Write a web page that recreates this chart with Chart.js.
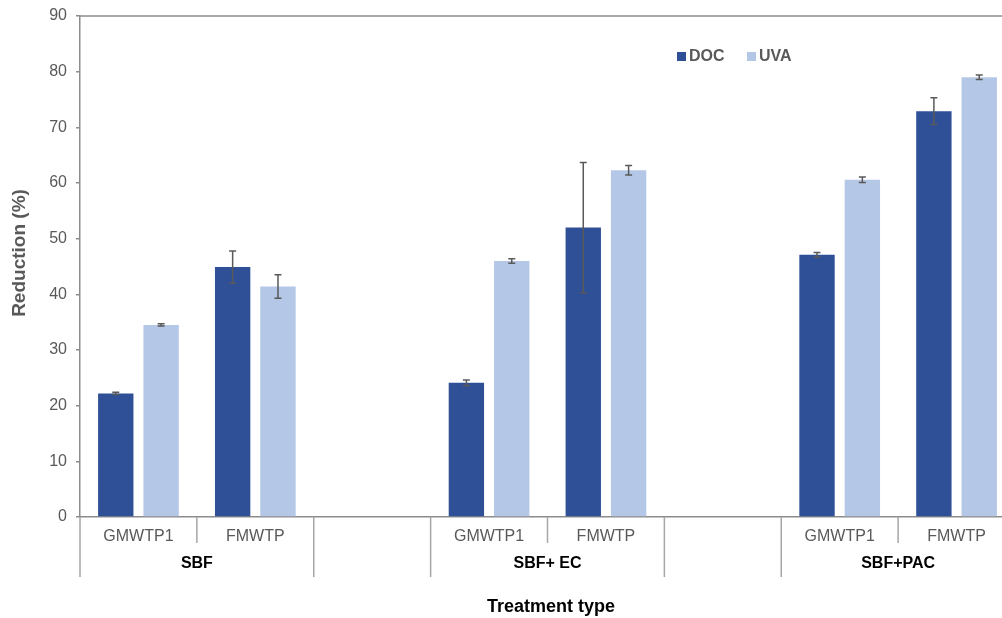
<!DOCTYPE html>
<html>
<head>
<meta charset="UTF-8">
<script src="https://cdn.jsdelivr.net/npm/chart.js"></script>
<style>
  html, body { margin: 0; padding: 0; background: white; overflow: hidden; }
  #wrap { width: 1016px; height: 618px; }
</style>
</head>
<body>
<div id="wrap"><canvas id="chart" width="1016" height="618"></canvas></div>
<script>
// categories (blank slots separate the treatment groups)
const categories = ['GMWTP1', 'FMWTP', '', 'GMWTP1', 'FMWTP', '', 'GMWTP1', 'FMWTP'];
const groupLabels = ['SBF', '', 'SBF+ EC', '', 'SBF+PAC'];
const groupSizes = [2, 1, 2, 1, 2];

const docValues = [22.2, 44.9, null, 24.1, 52.0, null, 47.1, 72.9];
const docErrors = [0.2, 2.9, null, 0.5, 11.7, null, 0.4, 2.4];
const uvaValues = [34.5, 41.4, null, 46.0, 62.3, null, 60.6, 79.0];
const uvaErrors = [0.2, 2.1, null, 0.4, 0.85, null, 0.5, 0.4];

const yTicks = [0, 10, 20, 30, 40, 50, 60, 70, 80, 90];

const DOC_COLOR = '#2F5097';
const UVA_COLOR = '#B4C7E7';
const AXIS_COLOR = '#8C8C8C';
const SEP_COLOR = '#A6A6A6';
const TEXT_GREY = '#595959';
const FONT = '"Liberation Sans", Arial, sans-serif';

// error bars drawn on top of each bar
const errorBars = {
  id: 'errorBars',
  afterDatasetsDraw(chart) {
    const ctx = chart.ctx;
    const y = chart.scales.y;
    ctx.save();
    ctx.strokeStyle = '#595959';
    ctx.lineWidth = 1.5;
    chart.data.datasets.forEach((ds, di) => {
      const meta = chart.getDatasetMeta(di);
      meta.data.forEach((bar, i) => {
        const v = ds.data[i];
        const e = ds.errors[i];
        if (v == null || e == null) return;
        const top = y.getPixelForValue(v + e);
        const bot = y.getPixelForValue(v - e);
        const x = bar.x;
        ctx.beginPath();
        ctx.moveTo(x, top); ctx.lineTo(x, bot);
        ctx.moveTo(x - 3.5, top); ctx.lineTo(x + 3.5, top);
        ctx.moveTo(x - 3.5, bot); ctx.lineTo(x + 3.5, bot);
        ctx.stroke();
      });
    });
    ctx.restore();
  }
};

// multi-level x labels, separators, frame, legend and titles
const decorations = {
  id: 'decorations',
  afterDraw(chart) {
    const ctx = chart.ctx;
    const area = chart.chartArea;
    const x = chart.scales.x;
    const step = x.getPixelForValue(1) - x.getPixelForValue(0);
    const base = area.bottom;
    ctx.save();

    // top frame line
    ctx.strokeStyle = AXIS_COLOR;
    ctx.lineWidth = 1.5;
    ctx.beginPath();
    ctx.moveTo(area.left, area.top);
    ctx.lineTo(area.right, area.top);
    ctx.stroke();

    // category labels
    ctx.fillStyle = TEXT_GREY;
    ctx.font = '16px ' + FONT;
    ctx.textAlign = 'center';
    ctx.textBaseline = 'middle';
    categories.forEach((c, i) => {
      if (c) ctx.fillText(c, x.getPixelForValue(i), base + 20);
    });

    // separators
    ctx.strokeStyle = SEP_COLOR;
    ctx.lineWidth = 1.5;
    let idx = 0;
    const bounds = [];
    groupSizes.forEach((n, g) => {
      const left = x.getPixelForValue(idx) - step / 2;
      const right = x.getPixelForValue(idx + n - 1) + step / 2;
      bounds.push(left);
      for (let k = 1; k < n; k++) {
        const sx = x.getPixelForValue(idx + k) - step / 2;
        ctx.beginPath();
        ctx.moveTo(sx, base); ctx.lineTo(sx, base + 26);
        ctx.stroke();
      }
      if (groupLabels[g]) {
        ctx.fillStyle = '#000';
        ctx.font = 'bold 16px ' + FONT;
        ctx.fillText(groupLabels[g], (left + right) / 2, base + 47);
      }
      idx += n;
      if (g === groupSizes.length - 1) bounds.push(right);
    });
    bounds.forEach(bx => {
      ctx.beginPath();
      ctx.moveTo(bx, base); ctx.lineTo(bx, base + 60);
      ctx.stroke();
    });

    // axis titles
    ctx.fillStyle = '#000';
    ctx.font = 'bold 18px ' + FONT;
    ctx.fillText('Treatment type', 551, 607);

    ctx.save();
    ctx.translate(20, 253);
    ctx.rotate(-Math.PI / 2);
    ctx.fillStyle = TEXT_GREY;
    ctx.font = 'bold 19px ' + FONT;
    ctx.fillText('Reduction (%)', 0, 0);
    ctx.restore();

    // legend
    ctx.font = 'bold 16px ' + FONT;
    ctx.textAlign = 'left';
    const items = [['DOC', DOC_COLOR, 677], ['UVA', UVA_COLOR, 747]];
    items.forEach(([label, col, lx]) => {
      ctx.fillStyle = col;
      ctx.fillRect(lx, 52, 9, 9);
      ctx.fillStyle = TEXT_GREY;
      ctx.fillText(label, lx + 12, 57);
    });

    ctx.restore();
  }
};

new Chart(document.getElementById('chart'), {
  type: 'bar',
  data: {
    labels: categories,
    datasets: [
      { label: 'DOC', data: docValues, errors: docErrors, backgroundColor: DOC_COLOR,
        categoryPercentage: 0.776, barPercentage: 0.78 },
      { label: 'UVA', data: uvaValues, errors: uvaErrors, backgroundColor: UVA_COLOR,
        categoryPercentage: 0.776, barPercentage: 0.78 }
    ]
  },
  options: {
    responsive: false,
    animation: false,
    layout: { padding: { top: 16, bottom: 101, left: 0, right: 1 } },
    plugins: {
      legend: { display: false },
      tooltip: { enabled: false }
    },
    scales: {
      x: {
        ticks: { display: false },
        grid: { display: false, drawTicks: false },
        border: { display: true, color: AXIS_COLOR, width: 1.5 },
        afterFit: s => { s.height = 0; }
      },
      y: {
        min: 0,
        max: 90,
        afterBuildTicks: s => { s.ticks = yTicks.map(v => ({ value: v })); },
        ticks: { color: TEXT_GREY, font: { size: 16, family: FONT }, padding: 9 },
        grid: { drawOnChartArea: false, drawTicks: true, tickLength: 4, color: AXIS_COLOR, lineWidth: 1.5 },
        border: { display: true, color: AXIS_COLOR, width: 1.5 },
        afterFit: s => { s.width = 80; s.paddingTop = 0; s.paddingBottom = 0; }
      }
    }
  },
  plugins: [errorBars, decorations]
});
</script>
</body>
</html>
